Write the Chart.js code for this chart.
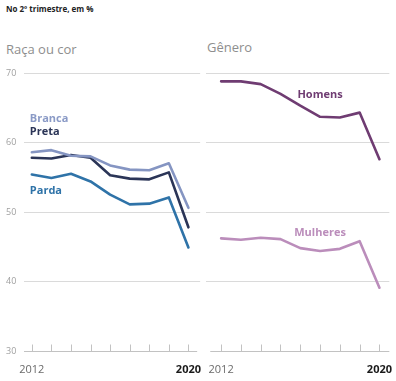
<!DOCTYPE html>
<html>
<head>
<meta charset="utf-8">
<script src="https://cdn.jsdelivr.net/npm/chart.js@4.4.1/dist/chart.umd.min.js"></script>
<style>
body{margin:0;background:#fff;font-family:"Open Sans",sans-serif;}
#wrap{position:relative;width:396px;height:381px;overflow:hidden;}
.t{position:absolute;white-space:nowrap;}
#sub{left:6px;top:3px;font-size:8px;font-weight:700;color:#222;}
#t1{left:6px;top:40px;font-size:13px;color:#8e8e8e;}
#t2{left:207px;top:38px;font-size:13px;color:#8e8e8e;}
#c1{position:absolute;left:0;top:0;}
#c2{position:absolute;left:205px;top:0;}
</style>
</head>
<body>
<div id="wrap">
<div class="t" id="sub">No 2º trimestre, em %</div>
<div class="t" id="t1">Raça ou cor</div>
<div class="t" id="t2">Gênero</div>
<div id="c1"><canvas id="left" width="205" height="381"></canvas></div>
<div id="c2"><canvas id="right" width="191" height="381"></canvas></div>
</div>
<script>
const years=[2012,2013,2014,2015,2016,2017,2018,2019,2020];
const yTicks=[30,40,50,60,70];
const branca=[58.6,58.9,58.1,58.0,56.7,56.1,56.0,57.0,50.6];
const preta=[57.8,57.7,58.2,57.8,55.3,54.8,54.7,55.7,47.8];
const parda=[55.4,54.9,55.5,54.4,52.5,51.1,51.2,52.1,44.9];
const homens=[68.8,68.8,68.4,67.0,65.3,63.7,63.6,64.3,57.6];
const mulheres=[46.2,46.0,46.3,46.1,44.8,44.4,44.7,45.8,39.1];

function pts(arr){return years.map((y,i)=>({x:y,y:arr[i]}));}

const inTicks={
  id:'inTicks',
  afterDatasetsDraw(chart,args,o){
    const x=chart.scales.x,ctx=chart.ctx,b=chart.chartArea.bottom+0.5;
    ctx.save();
    ctx.strokeStyle='#c2c2c2';ctx.lineWidth=1;
    ctx.beginPath();
    ctx.moveTo(chart.chartArea.left+o.l,b);ctx.lineTo(chart.chartArea.right-o.r,b);
    years.forEach(y=>{const px=Math.round(x.getPixelForValue(y))+0.5;ctx.moveTo(px,b);ctx.lineTo(px,b-7);});
    ctx.stroke();
    ctx.restore();
  }
};
const seriesLabels={
  id:'seriesLabels',
  afterDatasetsDraw(chart){
    const ctx=chart.ctx;
    chart.data.datasets.forEach((ds,i)=>{
      const m=chart.getDatasetMeta(i).data[ds.lab.idx];
      ctx.save();
      ctx.font='700 11px "Open Sans"';
      ctx.fillStyle=ds.lab.color||ds.borderColor;
      ctx.textAlign=ds.lab.align;ctx.textBaseline='middle';
      ctx.fillText(ds.label,m.x+ds.lab.dx,m.y+ds.lab.dy);
      ctx.restore();
    });
  }
};

function opts(showY,min,max,padL,padR,gap){
  return {
    responsive:false,animation:false,
    layout:{padding:{top:73,bottom:0,left:padL,right:padR}},
    plugins:{legend:{display:false},tooltip:{enabled:false},inTicks:gap},
    elements:{point:{radius:0},line:{borderWidth:2.6,tension:0,borderJoinStyle:'round',borderCapStyle:'round'}},
    scales:{
      x:{type:'linear',min:min,max:max,
        afterBuildTicks:s=>{s.ticks=years.map(v=>({value:v}));},
        afterFit:s=>{s.height=30;},
        grid:{display:false},border:{display:false},
        ticks:{autoSkip:false,maxRotation:0,padding:4,
          callback:v=>(v===2012||v===2020)?String(v):'',
          font:c=>({family:'"Open Sans"',size:11,weight:c.tick&&c.tick.value===2020?'700':'400'}),
          color:c=>c.tick&&c.tick.value===2020?'#1a1a1a':'#6a6a6a'}},
      y:{min:30,max:70,
        afterBuildTicks:s=>{s.ticks=yTicks.map(v=>({value:v}));},
        afterFit:s=>{s.width=showY?18:0;},
        border:{display:false},
        grid:{color:c=>c.tick&&c.tick.value===30?'rgba(0,0,0,0)':'#dadada',drawTicks:false,lineWidth:1},
        ticks:{display:showY,crossAlign:'far',padding:6,font:{family:'"Open Sans"',size:9},color:'#a0a0a0'}}
    }
  };
}

new Chart(document.getElementById('left'),{
  type:'line',
  data:{datasets:[
    {label:'Branca',data:pts(branca),borderColor:'#8595c2',lab:{idx:0,dx:-2,dy:-33,align:'left',color:'#8a9ac6'}},
    {label:'Preta',data:pts(preta),borderColor:'#2b3557',lab:{idx:0,dx:-2,dy:-26,align:'left'}},
    {label:'Parda',data:pts(parda),borderColor:'#2f73a8',lab:{idx:0,dx:-2,dy:16,align:'left'}}
  ]},
  options:opts(true,2011.6,2020.6,6,0,{l:0,r:3}),
  plugins:[inTicks,seriesLabels]
});
new Chart(document.getElementById('right'),{
  type:'line',
  data:{datasets:[
    {label:'Homens',data:pts(homens),borderColor:'#6f3c72',lab:{idx:5,dx:0,dy:-22,align:'center'}},
    {label:'Mulheres',data:pts(mulheres),borderColor:'#bb8dbb',lab:{idx:5,dx:0,dy:-18,align:'center'}}
  ]},
  options:opts(false,2011.25,2020.5,0,1,{l:4,r:0}),
  plugins:[inTicks,seriesLabels]
});
</script>
</body>
</html>
